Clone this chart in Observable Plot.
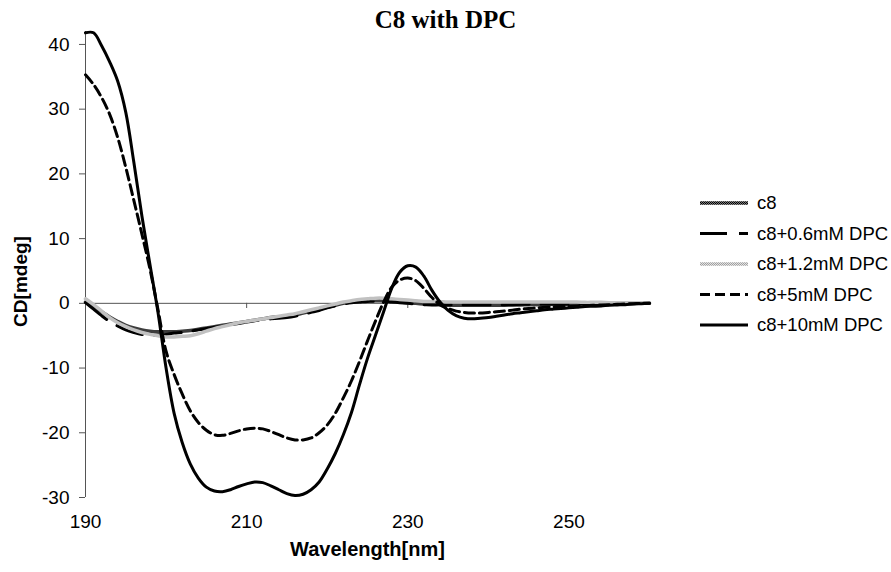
<!DOCTYPE html>
<html>
<head>
<meta charset="utf-8">
<script src="https://cdn.jsdelivr.net/npm/d3@7"></script>
<script src="https://cdn.jsdelivr.net/npm/@observablehq/plot@0.6"></script>
<style>
  body { margin: 0; background: #fff; }
  #chart { position: relative; width: 891px; height: 572px; font-family: "Liberation Sans", Arial, sans-serif; }
  #title { position: absolute; top: 7px; left: 0; width: 891px; text-align: center;
           font-family: "Liberation Serif", "Times New Roman", serif; font-weight: bold; font-size: 25px; line-height: 26px; }
  #legend { position: absolute; left: 695px; top: 185px; }
</style>
</head>
<body>
<div id="chart">
  <div id="title">C8 with DPC</div>
</div>
<script>
// Wavelength grid (nm) of the CD scans
const wavelength = [
  190,191,192,193,194,195,196,197,198,199,
  200,201,202,203,204,205,206,207,208,209,
  210,211,212,213,214,215,216,217,218,219,
  220,221,222,223,224,225,226,227,228,229,
  230,231,232,233,234,235,236,237,238,239,
  240,241,242,243,244,245,246,247,248,249,
  250,251,252,253,254,255,256,257,258,259,
  260
];

// CD signal (mdeg) for each sample
const c8 = [
  0.2,-0.5,-1.3,-2.1,-2.8,-3.4,-3.8,-4.1,-4.3,-4.4,
  -4.4,-4.4,-4.3,-4.2,-4.0,-3.8,-3.6,-3.4,-3.2,-3.0,
  -2.8,-2.6,-2.4,-2.2,-2.1,-2.0,-1.8,-1.5,-1.2,-0.9,
  -0.6,-0.3,0.0,0.2,0.3,0.4,0.4,0.4,0.3,0.2,
  0.1,0.0,-0.1,-0.2,-0.2,-0.3,-0.3,-0.3,-0.3,-0.3,
  -0.3,-0.3,-0.3,-0.25,-0.25,-0.2,-0.2,-0.2,-0.15,-0.15,
  -0.15,-0.1,-0.1,-0.1,-0.1,-0.05,-0.05,-0.05,0.0,0.0,
  0.0
];
const c8Dpc06 = [
  0.1,-0.9,-1.9,-2.8,-3.5,-4.1,-4.5,-4.8,-4.9,-4.9,
  -4.8,-4.6,-4.5,-4.3,-4.1,-3.9,-3.7,-3.5,-3.3,-3.1,
  -2.9,-2.7,-2.5,-2.4,-2.3,-2.2,-2.0,-1.7,-1.4,-1.1,
  -0.7,-0.4,-0.1,0.1,0.2,0.3,0.3,0.3,0.2,0.1,
  0.0,-0.1,-0.2,-0.2,-0.2,-0.2,-0.2,-0.2,-0.2,-0.2,
  -0.2,-0.2,-0.2,-0.2,-0.15,-0.15,-0.15,-0.1,-0.1,-0.1,
  -0.1,-0.1,-0.05,-0.05,-0.05,-0.05,0.0,0.0,0.0,0.0,
  0.0
];
const c8Dpc12 = [
  0.7,-0.2,-1.2,-2.2,-3.0,-3.6,-4.1,-4.5,-4.8,-5.0,
  -5.2,-5.2,-5.1,-5.0,-4.7,-4.3,-3.9,-3.6,-3.3,-3.0,
  -2.8,-2.6,-2.4,-2.2,-2.0,-1.8,-1.6,-1.3,-1.0,-0.7,
  -0.4,-0.1,0.2,0.4,0.6,0.7,0.8,0.8,0.7,0.6,
  0.5,0.4,0.3,0.3,0.25,0.2,0.2,0.2,0.2,0.2,
  0.2,0.2,0.2,0.2,0.2,0.2,0.2,0.2,0.2,0.2,
  0.2,0.2,0.15,0.15,0.15,0.1,0.1,0.1,0.1,0.1,
  0.1
];
const c8Dpc5 = [
  35.3,33.8,31.8,29.2,25.6,21.0,15.9,10.7,5.3,-1.0,
  -7.4,-11.0,-14.0,-16.6,-18.4,-19.6,-20.3,-20.4,-20.1,-19.7,
  -19.4,-19.3,-19.4,-19.8,-20.3,-20.8,-21.1,-21.1,-20.8,-20.0,
  -18.8,-17.0,-14.6,-12.0,-9.0,-5.8,-2.7,0.2,2.5,3.6,
  3.9,3.5,2.3,0.9,-0.2,-0.8,-1.2,-1.4,-1.5,-1.5,
  -1.4,-1.3,-1.2,-1.05,-0.9,-0.8,-0.7,-0.6,-0.55,-0.5,
  -0.45,-0.4,-0.35,-0.3,-0.25,-0.2,-0.15,-0.1,-0.05,0.0,
  0.0
];
const c8Dpc10 = [
  41.8,41.8,39.8,37.3,34.3,29.5,21.8,13.5,6.0,-1.4,
  -10.0,-17.0,-21.5,-24.8,-27.0,-28.4,-29.0,-29.1,-28.8,-28.3,
  -27.9,-27.6,-27.7,-28.2,-28.8,-29.4,-29.7,-29.5,-28.8,-27.6,
  -25.6,-23.2,-20.3,-16.9,-12.6,-8.5,-4.9,-1.3,2.3,4.8,
  5.8,5.6,4.2,2.0,0.2,-1.1,-1.9,-2.3,-2.4,-2.3,
  -2.2,-2.0,-1.8,-1.6,-1.45,-1.3,-1.15,-1.0,-0.9,-0.8,
  -0.7,-0.6,-0.5,-0.45,-0.4,-0.3,-0.25,-0.2,-0.1,-0.05,
  0.0
];

const seriesNames = ["c8", "c8+0.6mM DPC", "c8+1.2mM DPC", "c8+5mM DPC", "c8+10mM DPC"];
const seriesValues = [c8, c8Dpc06, c8Dpc12, c8Dpc5, c8Dpc10];
const xTicks = [190, 210, 230, 250];
const yTicks = [-30, -20, -10, 0, 10, 20, 30, 40];

// Line styles per series (textured strokes use the patterns defined below)
const seriesStyles = [
  {stroke: "url(#tex-dark)", strokeWidth: 3.5},
  {stroke: "#000", strokeWidth: 3, strokeDasharray: "27,12"},
  {stroke: "url(#tex-light)", strokeWidth: 3.5},
  {stroke: "#000", strokeWidth: 3, strokeDasharray: "10,5"},
  {stroke: "#000", strokeWidth: 3}
];

// Small checker textures for the two patterned lines
function textureDefs() {
  const defs = d3.create("svg:defs");
  const tex = [["tex-dark", "#7a7a7a", "#000"], ["tex-light", "#e2e2e2", "#a0a0a0"]];
  for (const [id, base, dot] of tex) {
    const p = defs.append("pattern").attr("id", id).attr("width", 2).attr("height", 2)
      .attr("patternUnits", "userSpaceOnUse");
    p.append("rect").attr("width", 2).attr("height", 2).attr("fill", base);
    p.append("rect").attr("width", 1).attr("height", 1).attr("fill", dot);
    p.append("rect").attr("x", 1).attr("y", 1).attr("width", 1).attr("height", 1).attr("fill", dot);
  }
  return defs.node();
}

const tables = seriesValues.map((vals) => wavelength.map((w, i) => ({w, v: vals[i]})));

const axisColor = "#555";
const plainNumber = (d) => String(d);

const plot = Plot.plot({
  width: 891,
  height: 572,
  marginLeft: 85,
  marginRight: 242,
  marginTop: 31,
  marginBottom: 75,
  style: {fontFamily: "'Liberation Sans', Arial, sans-serif", fontSize: "19px", background: "#fff", color: "#000", overflow: "visible"},
  x: {domain: [190, 260]},
  y: {domain: [-30, 42]},
  marks: [
    textureDefs,
    Plot.axisY({ticks: yTicks, tickFormat: plainNumber, tickSize: 6, tickPadding: 10, label: null, stroke: axisColor, fontSize: 19}),
    Plot.axisX({ticks: xTicks, tickFormat: plainNumber, tickSize: 0, tickPadding: 17, label: null, fontSize: 19}),
    Plot.ruleX([190], {stroke: axisColor, strokeWidth: 1}),
    Plot.ruleY([0], {stroke: axisColor, strokeWidth: 1}),
    Plot.ruleX(xTicks.slice(1), {y1: 0, y2: -0.8, stroke: axisColor}),
    ...tables.map((t, i) => Plot.line(t, {x: "w", y: "v", curve: "catmull-rom", ...seriesStyles[i]})),
    Plot.text(["CD[mdeg]"], {frameAnchor: "left", textAnchor: "middle", dx: -65, dy: 17, rotate: -90, fontWeight: "bold", fontSize: 19}),
    Plot.text(["Wavelength[nm]"], {frameAnchor: "bottom", dy: 58, fontWeight: "bold", fontSize: 20})
  ]
});

const chart = document.getElementById("chart");
chart.appendChild(plot);

// Legend on the right
const legend = d3.create("svg").attr("id", "legend").attr("width", 196).attr("height", 160)
  .style("font-family", "'Liberation Sans', Arial, sans-serif");
seriesNames.forEach((name, i) => {
  const y = 18 + i * 30.5;
  const s = seriesStyles[i];
  legend.append("line").attr("x1", 5).attr("x2", 53).attr("y1", y).attr("y2", y)
    .attr("stroke", s.stroke).attr("stroke-width", s.strokeWidth)
    .attr("stroke-dasharray", s.strokeDasharray || null);
  legend.append("text").attr("x", 62).attr("y", y).attr("dy", "0.35em")
    .style("font-size", "18.5px").text(name);
});
chart.appendChild(legend.node());
</script>
</body>
</html>
